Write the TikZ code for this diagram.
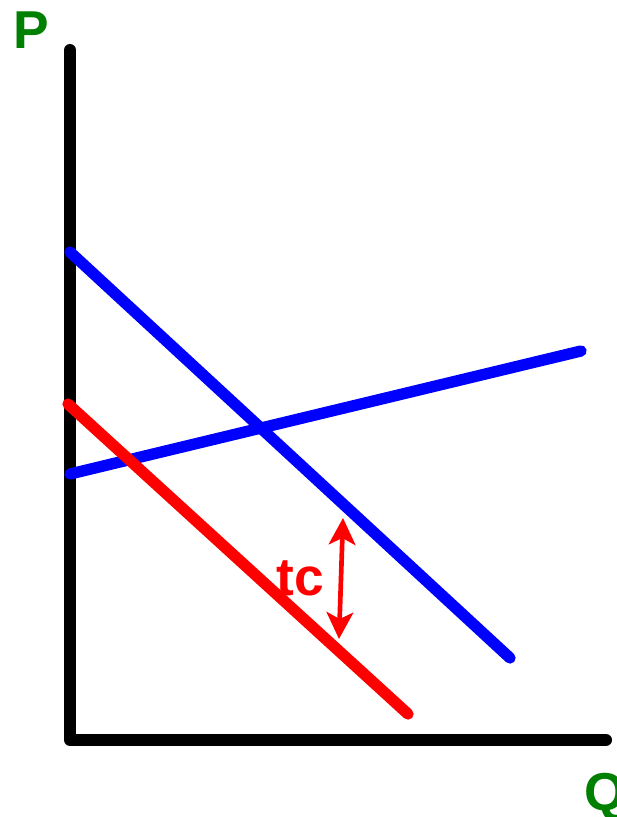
\documentclass[tikz,border=0pt]{standalone}
\usepackage{fontspec}
\setmainfont{Liberation Sans}
\usepackage{xcolor}
\usetikzlibrary{arrows.meta}
\definecolor{AxisGreen}{RGB}{0,128,0}
\definecolor{CurveBlue}{RGB}{0,0,255}
\definecolor{CurveRed}{RGB}{255,0,0}

\begin{document}
\begin{tikzpicture}[
  x=0.75pt, y=-0.75pt,
  axis/.style={line width=9pt, black, line cap=round, line join=round},
  curve/.style={line width=8.5pt, line cap=round},
  axislabel/.style={text=AxisGreen, font=\fontsize{40}{40}\selectfont\bfseries, inner sep=0pt},
  gap/.style={{Stealth[length=20pt, width=20pt, inset=5pt]}-{Stealth[length=20pt, width=20pt, inset=5pt]}, line width=3.5pt, color=CurveRed}
]
\useasboundingbox (0,0) rectangle (617,817);

% Axes
\coordinate (top) at (70,50);
\coordinate (origin) at (70,740);
\coordinate (right) at (606,740);
\draw[axis] (top) -- (origin) -- (right);
\node[axislabel] (p) at (31,30) {P};
\node[axislabel] (q) at (605,797) {Q};

% Curves
\coordinate (d1) at (70,252);
\coordinate (d2) at (510,658);
\coordinate (s1) at (70,474);
\coordinate (s2) at (581,351);
\coordinate (r1) at (68,404);
\coordinate (r2) at (408,714);
\draw[curve, CurveBlue] (d1) -- (d2);
\draw[curve, CurveBlue] (s1) -- (s2);
\draw[curve, CurveRed] (r1) -- (r2);

% Tax wedge
\coordinate (g1) at (343,518);
\coordinate (g2) at (339,639);
\draw[gap] (g1) -- (g2);
\node[text=CurveRed, font=\fontsize{40}{40}\selectfont\bfseries, inner sep=0pt] (tc) at (300,578) {tc};
\end{tikzpicture}
\end{document}
